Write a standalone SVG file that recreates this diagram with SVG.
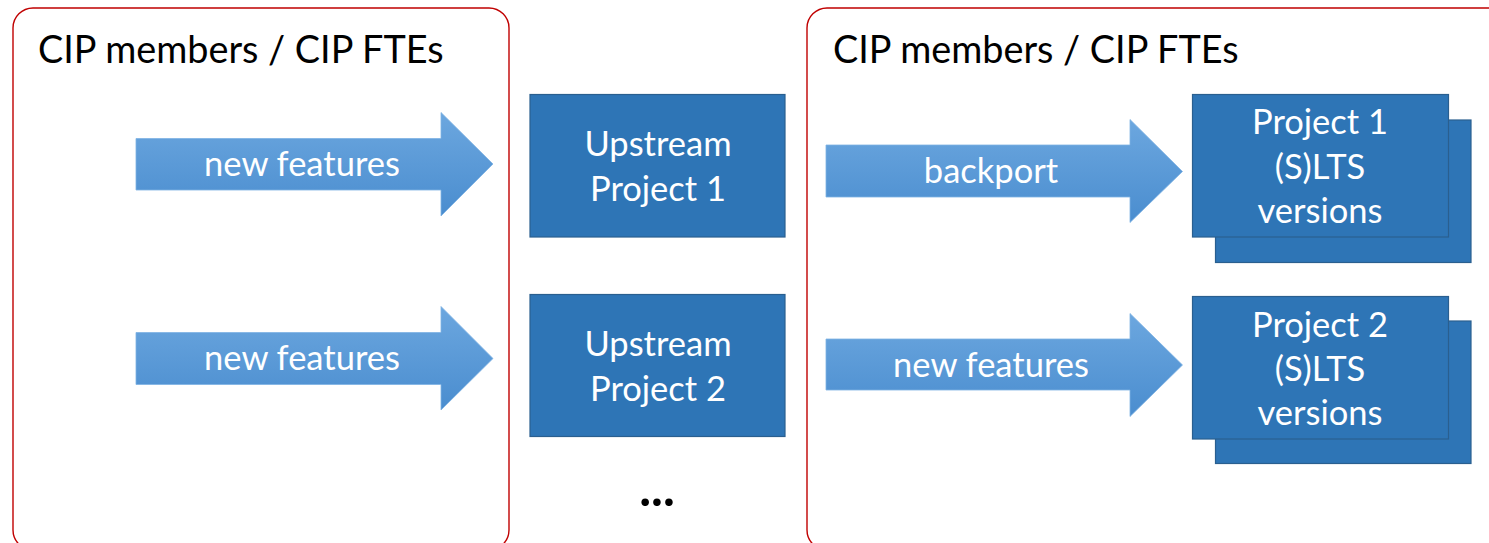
<svg xmlns="http://www.w3.org/2000/svg" width="1489" height="543" viewBox="0 0 1489 543">
  <defs>
    <linearGradient id="arrowGrad" x1="0" y1="0" x2="0" y2="1">
      <stop offset="0" stop-color="#6CA7DF"/>
      <stop offset="1" stop-color="#4A8DCF"/>
    </linearGradient>
    <style>
      .container { fill: #FFFFFF; stroke: #C00000; stroke-width: 1.4; }
      .title { font-family: Lato, "Liberation Sans", sans-serif; font-size: 37.8px; fill: #000000; }
      .arrow { fill: url(#arrowGrad); stroke: #7FB2E3; stroke-width: 0.8; }
      .box { fill: #2E75B6; stroke: #2A5F8F; stroke-width: 1.2; }
      .label { font-family: Lato, "Liberation Sans", sans-serif; font-size: 34.5px; fill: #FFFFFF; text-anchor: middle; }
      .dots { font-family: Lato, "Liberation Sans", sans-serif; font-size: 50px; font-weight: bold; fill: #000000; text-anchor: middle; }
    </style>
  </defs>

  <g id="container-left">
    <rect class="container" x="13" y="8" width="496" height="542" rx="20" ry="20"/>
    <text class="title" x="38" y="63">CIP members / CIP FTEs</text>
  </g>
  <g id="container-right">
    <rect class="container" x="807" y="8" width="720" height="542" rx="20" ry="20"/>
    <text class="title" x="833" y="63">CIP members / CIP FTEs</text>
  </g>

  <g id="connectors">
    <g id="arrow-left-1">
      <path class="arrow" d="M136,138.5 H441 V112.5 L493,164 L441,216 V190 H136 Z"/>
      <text class="label" x="302" y="176">new features</text>
    </g>
    <g id="arrow-left-2">
      <path class="arrow" d="M136,332.5 H441 V306.5 L493,358.5 L441,410 V384.5 H136 Z"/>
      <text class="label" x="302" y="370">new features</text>
    </g>
    <g id="arrow-right-1">
      <path class="arrow" d="M826,145 H1130 V119.5 L1182.5,171.5 L1130,222.5 V197 H826 Z"/>
      <text class="label" x="991" y="183">backport</text>
    </g>
    <g id="arrow-right-2">
      <path class="arrow" d="M826,339 H1130 V313.5 L1182.5,365 L1130,416.5 V390 H826 Z"/>
      <text class="label" x="991" y="377">new features</text>
    </g>
  </g>

  <g id="upstream-1">
    <rect class="box" x="530" y="94.5" width="255" height="142.5"/>
    <text class="label" x="658" y="156">Upstream</text>
    <text class="label" x="658" y="201">Project 1</text>
  </g>
  <g id="upstream-2">
    <rect class="box" x="530" y="294.5" width="255" height="142"/>
    <text class="label" x="658" y="356">Upstream</text>
    <text class="label" x="658" y="401">Project 2</text>
  </g>

  <g id="lts-1">
    <rect class="box" x="1215.5" y="120" width="255.5" height="142.5"/>
    <rect class="box" x="1192.5" y="94.5" width="256" height="142.5"/>
    <text class="label" x="1320" y="134">Project 1</text>
    <text class="label" x="1320" y="179">(S)LTS</text>
    <text class="label" x="1320" y="223">versions</text>
  </g>
  <g id="lts-2">
    <rect class="box" x="1215.5" y="321" width="255.5" height="142.5"/>
    <rect class="box" x="1192.5" y="296.5" width="256" height="142.5"/>
    <text class="label" x="1320" y="337">Project 2</text>
    <text class="label" x="1320" y="381">(S)LTS</text>
    <text class="label" x="1320" y="425">versions</text>
  </g>

  <g id="ellipsis">
    <text class="dots" x="657" y="506">...</text>
  </g>
</svg>
